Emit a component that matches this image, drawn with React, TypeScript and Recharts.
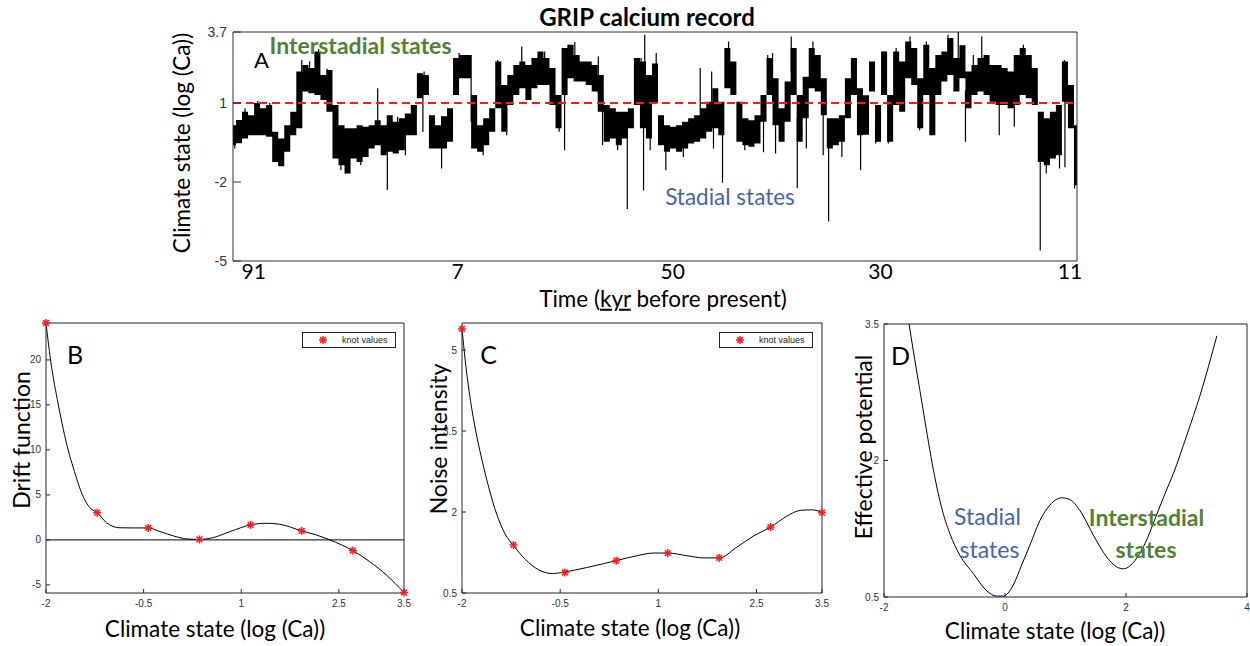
import React from "react";
import { ComposedChart, Area, Line, Scatter, XAxis, YAxis, ReferenceLine } from "recharts";

// ---------------- Panel A : GRIP calcium record (envelope read per column) ----------------
const caHigh = [
  0.16, 0.36, 0.67, 0.54, 1.0, 0.8, 0.93, -0.09, -0.35, 0.16,
  0.67, 2.2, 2.45, 2.33, 2.96, 2.07, 2.26, 0.93, 0.16, 0.04,
  0.04, 0.16, 0.1, 0.16, 0.35, 0.16, 0.54, 0.29, 0.42, 0.6,
  0.93, 2.13, 2.07, 0.54, 0.16, 0.5, 0.8, 2.71, 2.83, 2.83,
  1.31, 0.16, 0.42, 0.8, 2.58, 1.69, 2.07, 2.45, 2.58, 2.45,
  2.71, 2.96, 2.71, 2.33, 1.31, 3.09, 3.22, 2.83, 2.58, 2.58,
  2.45, 2.07, 0.93, 0.8, 0.67, 0.67, 0.8, 2.71, 2.58, 2.07,
  2.5, 0.54, 0.16, 0.1, 0.16, 0.29, 0.42, 0.54, 0.8, 1.05,
  1.56, 1.05, 3.09, 2.58, 1.05, 0.42, 0.35, 0.54, 1.31, 2.71,
  1.94, 0.8, 1.82, 3.09, 1.31, 2.0, 3.09, 2.83, 1.94, 0.42,
  0.42, 0.54, 1.94, 2.71, 1.56, 1.3, 2.58, 0.93, 2.96, 1.31,
  2.96, 2.58, 3.34, 3.09, 1.94, 3.22, 2.33, 2.83, 2.96, 3.47,
  2.71, 3.2, 2.2, 2.45, 2.71, 2.83, 2.45, 2.45, 2.33, 2.2,
  2.83, 3.09, 2.83, 2.33, 0.67, 0.42, 0.67, 0.93, 2.58, 1.69,
  0.16,
];
const caLow = [
  -0.6, -0.53, -0.35, -0.22, -0.22, -0.22, -0.28, -1.24, -1.4, -0.85,
  -0.22, 0.04, 1.44, 1.37, 1.31, 1.12, 0.67, -1.11, -1.36, -1.68,
  -1.11, -1.24, -1.05, -0.73, -0.6, -0.98, -0.85, -0.92, -0.79, -0.22,
  -0.22, 1.18, 1.31, -0.73, -0.73, -0.73, -0.47, 1.31, 1.94, 1.94,
  -0.73, -0.85, -0.6, -0.09, 0.8, -0.09, 0.93, 1.31, 1.56, 1.12,
  1.56, 1.69, 1.69, 0.93, 0.04, 1.31, 1.94, 1.82, 1.82, 1.69,
  1.44, 0.67, -0.47, -0.35, -0.6, -0.35, 0.04, 0.93, 0.04, -0.35,
  1.0, -0.6, -0.85, -0.73, -0.85, -0.73, -0.54, -0.47, -0.35, -0.09,
  0.04, -0.22, 1.56, 1.31, -0.47, -0.6, -0.66, -0.54, 0.29, 1.31,
  0.16, -0.47, 0.29, 1.31, -0.47, 0.42, 1.56, 1.44, 0.54, -0.73,
  -0.6, -0.47, 0.42, 1.31, -0.22, -0.2, 1.44, -0.47, 1.31, -0.47,
  0.93, 0.67, 1.94, 1.69, 0.04, 1.31, -0.22, 1.31, 1.82, 2.07,
  1.44, 1.94, 0.8, 1.31, 1.44, 1.31, 1.05, 0.93, 0.93, 0.8,
  0.93, 1.31, 1.18, 0.93, -1.24, -1.36, -1.11, -0.98, 1.05, 0.04,
  -2.12,
];
// isolated spikes beyond the band: [column, tip value]
const caSpikes: [number, number][] = [
  [14.2, 3.05], [24, 1.56], [25.6, -2.3], [31.5, -0.1], [34.6, -1.49], [47.9, 3.15],
  [55, -0.79], [65.4, -3.02], [68.1, -2.32], [68.3, 3.6], [69.2, -0.79], [70.2, 2.9],
  [71.8, -1.55], [77.5, 2.33], [81.2, -2.03], [82.2, 3.34], [88, -0.87], [90, -0.92],
  [92.6, 3.53], [93.6, -2.23], [98.8, -3.5], [104.1, -1.55], [120.3, 3.7], [121.5, -0.47],
  [124.2, 3.53], [127.1, -0.22], [133.9, -4.6], [138, -1.44], [139.6, -2.25],
  // smaller excursions on the band edges
  [2.0, 0.8], [4.1, 1.08], [6.1, 1.0], [11.4, 2.64], [12.7, 2.58], [15.6, 2.3], [27.3, 0.48],
  [31.7, 2.2], [0.3, -0.73], [17.9, -1.55], [18.7, -1.68], [21.2, -1.36], [28.6, -0.98],
  [37.5, 2.9], [39.5, 2.83], [43.9, 2.64], [51.7, 2.96], [55.6, 3.22], [56.7, 3.32],
  [60.6, 2.77], [67.7, 2.71], [41.5, -0.98], [45.4, -0.22], [54.1, -0.09], [61.3, -0.6],
  [63.8, -0.79], [79.4, 2.2], [88.7, 2.83], [89.5, 2.9], [96.2, 3.34], [102.6, 2.71],
  [74.7, -1.05], [79.7, -0.73], [84.9, -0.79], [95.1, -0.73], [97.9, -0.98], [101, -1.05],
  [108.1, 2.96], [110, 3.09], [112.3, 3.53], [115, 3.34], [118.6, 3.6], [122.8, 2.83],
  [131.1, 3.22], [137.9, 2.64], [106.6, -0.54], [108.7, -0.54], [113.9, -0.03], [115.8, -0.22],
  [129.6, 0.1], [134.9, -1.68], [137.1, -1.49],
];
const timeTickPos = [3.45, 37.24, 72.95, 107.4, 138.84];
const timeTickLabels = ["91", "7", "50", "30", "11"];
const stateTicks = [-5, -2, 1, 3.7];
const stateThreshold = 1;

// ---------------- Panels B, C : knots and fitted curves ----------------
const knotX = [-2, -1.214, -0.429, 0.357, 1.143, 1.929, 2.714, 3.5];
const driftKnots = [24.1, 3.03, 1.33, 0.05, 1.67, 1.0, -1.19, -5.85];
const driftCurveX = [-2, -1.93, -1.81, -1.66, -1.58, -1.44, -1.33, -1.214, -1.07, -0.87, -0.66, -0.429, -0.25, -0.04, 0.16, 0.357, 0.57, 0.83, 1.143, 1.39, 1.59, 1.929, 2.15, 2.36, 2.714, 2.97, 3.23, 3.5];
const driftCurveY = [24.1, 20, 15, 10, 8.0, 5, 3.6, 3.03, 1.9, 1.35, 1.33, 1.33, 0.93, 0.44, 0.11, 0.05, 0.26, 0.93, 1.67, 1.85, 1.74, 1.0, 0.56, 0.0, -1.19, -2.4, -3.9, -5.85];

const noiseKnots = [5.39, 1.39, 0.88, 1.1, 1.24, 1.15, 1.72, 1.99];
const noiseCurveX = [-2.0, -1.95, -1.87, -1.79, -1.69, -1.59, -1.47, -1.34, -1.214, -1.03, -0.83, -0.62, -0.429, -0.1, 0.357, 0.67, 0.93, 1.143, 1.44, 1.69, 1.929, 2.2, 2.46, 2.714, 2.96, 3.17, 3.35, 3.5];
const noiseCurveY = [5.39, 4.8, 4.06, 3.5, 2.94, 2.45, 1.96, 1.59, 1.38, 1.12, 0.93, 0.86, 0.89, 0.97, 1.1, 1.19, 1.24, 1.24, 1.19, 1.15, 1.15, 1.35, 1.56, 1.72, 1.92, 2.03, 2.04, 1.99];

// ---------------- Panel D : effective potential ----------------
const potentialX = [-1.586, -1.492, -1.409, -1.327, -1.244, -1.161, -1.051, -0.913, -0.747, -0.526, -0.306, -0.14, -0.03, 0.136, 0.274, 0.412, 0.577, 0.743, 0.936, 1.074, 1.24, 1.46, 1.681, 1.847, 1.957, 2.123, 2.316, 2.481, 2.647, 2.785, 3.006, 3.226, 3.502];
const potentialY = [3.5, 3.11, 2.78, 2.45, 2.12, 1.82, 1.49, 1.2, 0.96, 0.76, 0.57, 0.51, 0.51, 0.63, 0.85, 1.07, 1.34, 1.51, 1.59, 1.57, 1.45, 1.18, 0.94, 0.83, 0.81, 0.88, 1.09, 1.36, 1.64, 1.86, 2.28, 2.72, 3.37];

const bcXTicks = [-2, -0.5, 1, 2.5, 3.5];
const driftTicks = [-5, 0, 5, 10, 15, 20];
const noiseTicks = [0.5, 2, 3.5, 5];
const potXTicks = [-2, 0, 2, 4];
const potYTicks = [0.5, 2, 3.5];

// ---------------- derived tables ----------------
const bandRows = caHigh.map((h, i) => ({ t: i, band: [caLow[i], h] }));
const spikeRows = caSpikes.flatMap(([t, tip]) => {
  const j = Math.min(caHigh.length - 1, Math.max(0, Math.round(t)));
  const base = (caHigh[j] + caLow[j]) / 2;
  return [{ t, v: base }, { t, v: tip }, { t, v: null as number | null }];
});
const toRows = (xs: number[], ys: number[]) => xs.map((x, i) => ({ x, y: ys[i] }));
const driftCurve = toRows(driftCurveX, driftCurveY);
const driftKnotRows = toRows(knotX, driftKnots);
const noiseCurve = toRows(noiseCurveX, noiseCurveY);
const noiseKnotRows = toRows(knotX, noiseKnots);
const potentialCurve = toRows(potentialX, potentialY);

const AXIS = "#262626";
const GREEN = "#548235";
const BLUE = "#4468A8";
const smallTick = { fontSize: 10, fill: "#333", fontFamily: "Liberation Sans, Arial, sans-serif" };

const Asterisk = (p: any) => {
  const { cx, cy } = p;
  if (cx == null || cy == null) return <g />;
  const r = 4;
  const d = r * 0.72;
  return (
    <g stroke="#ff1a1a" strokeWidth={1.5}>
      <line x1={cx - r} y1={cy} x2={cx + r} y2={cy} />
      <line x1={cx} y1={cy - r} x2={cx} y2={cy + r} />
      <line x1={cx - d} y1={cy - d} x2={cx + d} y2={cy + d} />
      <line x1={cx - d} y1={cy + d} x2={cx + d} y2={cy - d} />
    </g>
  );
};

const Txt = ({ x, y, size, bold, color, rotate, children }: any) => (
  <div
    style={{
      position: "absolute",
      left: x,
      top: y,
      transform: `translate(-50%, -50%)${rotate ? " rotate(-90deg)" : ""}`,
      fontFamily: "Lato, sans-serif",
      fontSize: size,
      fontWeight: bold ? 700 : 400,
      color: color || "#000",
      whiteSpace: "nowrap",
      lineHeight: 1,
      textAlign: "center",
      pointerEvents: "none",
    }}
  >
    {children}
  </div>
);

const KnotLegend = ({ x, y }: { x: number; y: number }) => (
  <div
    style={{
      position: "absolute",
      left: x,
      top: y,
      width: 92,
      height: 14,
      border: `1px solid ${AXIS}`,
      background: "#fff",
      fontFamily: "Liberation Sans, Arial, sans-serif",
      fontSize: 9,
      color: "#222",
    }}
  >
    <svg width={30} height={14} style={{ position: "absolute", left: 5, top: 0 }}>
      <Asterisk cx={15} cy={7} />
    </svg>
    <span style={{ position: "absolute", left: 39, top: 1, lineHeight: "12px" }}>knot values</span>
  </div>
);

const smallFrame = (xDomain: number[], xTicks: number[], yDomain: number[], yTicks: number[]) => [
  <XAxis key="xb" xAxisId={0} dataKey="x" type="number" domain={xDomain} ticks={xTicks} interval={0}
    tick={smallTick} tickSize={-4} tickMargin={11} height={20} stroke={AXIS} allowDecimals />,
  <XAxis key="xt" xAxisId="top" orientation="top" type="number" domain={xDomain} ticks={xTicks} interval={0}
    tick={false} tickSize={-4} height={1} stroke={AXIS} allowDataOverflow />,
  <YAxis key="yl" yAxisId={0} dataKey="y" type="number" domain={yDomain} ticks={yTicks} interval={0}
    tick={smallTick} tickSize={-4} tickMargin={9} width={40} stroke={AXIS} />,
  <YAxis key="yr" yAxisId="r" orientation="right" type="number" domain={yDomain} ticks={yTicks} interval={0}
    tick={false} tickSize={-4} width={1} stroke={AXIS} allowDataOverflow />,
];

export default function App() {
  return (
    <div style={{ position: "absolute", left: 0, top: 0, width: 1250, height: 646, background: "#fff", overflow: "hidden" }}>
      {/* Panel A */}
      <div style={{ position: "absolute", left: 0, top: 0 }}>
        <ComposedChart width={1250} height={320} data={bandRows} margin={{ top: 31, right: 172, bottom: 29, left: 193 }}>
          <XAxis dataKey="t" type="number" domain={[0, 140]} ticks={timeTickPos} interval={0}
            tickFormatter={(v: number) => timeTickLabels[timeTickPos.indexOf(v)] ?? ""}
            tick={{ fontSize: 21, fill: "#000", fontFamily: "Lato, sans-serif" }}
            tickLine={false} tickSize={0} tickMargin={3} height={30} stroke="#333" />
          <XAxis xAxisId="top" orientation="top" type="number" domain={[0, 140]} tick={false} tickLine={false}
            height={1} stroke="#333" allowDataOverflow />
          <YAxis type="number" domain={[-5, 3.7]} ticks={stateTicks} interval={0}
            tick={{ fontSize: 14, fill: "#333", fontFamily: "Liberation Sans, Arial, sans-serif" }}
            tickSize={-8} tickMargin={14} width={40} stroke="#333" />
          <YAxis yAxisId="r" orientation="right" type="number" domain={[-5, 3.7]} ticks={stateTicks} interval={0}
            tick={false} tickSize={-8} width={1} stroke="#333" allowDataOverflow />
          <Area dataKey="band" type="step" stroke="none" fill="#000" fillOpacity={1}
            isAnimationActive={false} dot={false} activeDot={false} />
          <Line data={spikeRows} dataKey="v" type="linear" stroke="#000" strokeWidth={1.2} dot={false}
            activeDot={false} connectNulls={false} isAnimationActive={false} />
          <ReferenceLine y={stateThreshold} stroke="#ff1a1a" strokeWidth={2} strokeDasharray="8 5" />
        </ComposedChart>
      </div>

      {/* Panel B */}
      <div style={{ position: "absolute", left: 0, top: 310 }}>
        <ComposedChart width={420} height={336} margin={{ top: 12, right: 15, bottom: 33, left: 6 }}>
          {smallFrame([-2, 3.5], bcXTicks, [-5.9, 24.1], driftTicks)}
          <ReferenceLine y={0} stroke="#000" strokeWidth={1} />
          <Line data={driftCurve} dataKey="y" type="monotone" stroke="#000" strokeWidth={1} dot={false}
            activeDot={false} isAnimationActive={false} />
          <Scatter data={driftKnotRows} dataKey="y" shape={Asterisk} isAnimationActive={false} />
        </ComposedChart>
      </div>

      {/* Panel C */}
      <div style={{ position: "absolute", left: 420, top: 310 }}>
        <ComposedChart width={420} height={336} margin={{ top: 12, right: 17, bottom: 33, left: 2 }}>
          {smallFrame([-2, 3.5], bcXTicks, [0.5, 5.5], noiseTicks)}
          <Line data={noiseCurve} dataKey="y" type="monotone" stroke="#000" strokeWidth={1} dot={false}
            activeDot={false} isAnimationActive={false} />
          <Scatter data={noiseKnotRows} dataKey="y" shape={Asterisk} isAnimationActive={false} />
        </ComposedChart>
      </div>

      {/* Panel D */}
      <div style={{ position: "absolute", left: 840, top: 310 }}>
        <ComposedChart width={410} height={336} margin={{ top: 13, right: 2, bottom: 29, left: 4 }}>
          {smallFrame([-2, 4], potXTicks, [0.5, 3.5], potYTicks)}
          <Line data={potentialCurve} dataKey="y" type="monotone" stroke="#000" strokeWidth={1} dot={false}
            activeDot={false} isAnimationActive={false} />
        </ComposedChart>
      </div>

      {/* Panel A texts */}
      <Txt x={647} y={16.7} size={24} bold>GRIP calcium record</Txt>
      <Txt x={261.5} y={59.5} size={22}>A</Txt>
      <Txt x={360.5} y={45} size={23} bold color={GREEN}>Interstadial states</Txt>
      <Txt x={730} y={197} size={22.5} color={BLUE}>Stadial states</Txt>
      <Txt x={663} y={298.5} size={22.5}>
        Time (<span style={{ textDecoration: "underline" }}>kyr</span> before present)
      </Txt>
      <Txt x={182} y={143} size={22.5} rotate>Climate state (log (Ca))</Txt>

      {/* Panel B texts */}
      <Txt x={75} y={353.5} size={25}>B</Txt>
      <Txt x={21} y={440} size={23} rotate>Drift function</Txt>
      <Txt x={215} y={629} size={22.5}>Climate state (log (Ca))</Txt>
      <KnotLegend x={302} y={332} />

      {/* Panel C texts */}
      <Txt x={488.5} y={353.5} size={25}>C</Txt>
      <Txt x={437.5} y={439} size={23} rotate>Noise intensity</Txt>
      <Txt x={630} y={628} size={22.5}>Climate state (log (Ca))</Txt>
      <KnotLegend x={719} y={332} />

      {/* Panel D texts */}
      <Txt x={900.5} y={355} size={25}>D</Txt>
      <Txt x={862.5} y={447} size={23} rotate>Effective potential</Txt>
      <Txt x={1055} y={631} size={22.5}>Climate state (log (Ca))</Txt>
      <Txt x={987.5} y={516} size={23} color={BLUE}>Stadial</Txt>
      <Txt x={989.5} y={548.5} size={23} color={BLUE}>states</Txt>
      <Txt x={1146.5} y={516.5} size={23} bold color={GREEN}>Interstadial</Txt>
      <Txt x={1146} y={548.5} size={23} bold color={GREEN}>states</Txt>
    </div>
  );
}
